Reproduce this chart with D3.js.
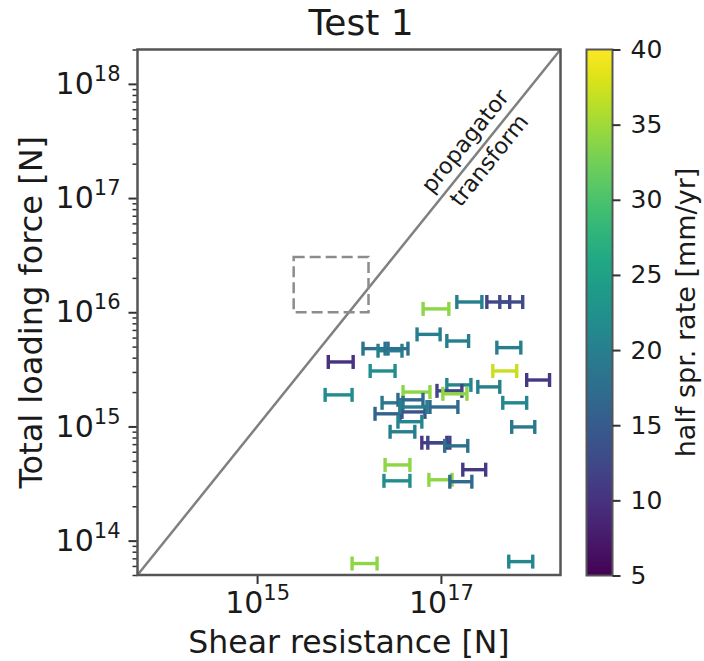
<!DOCTYPE html>
<html>
<head>
<meta charset="utf-8">
<script src="https://cdn.jsdelivr.net/npm/d3@7"></script>
<style>
  body { margin: 0; background: #fff; }
  text { font-family: "DejaVu Sans", sans-serif; fill: #1a1a1a; }
</style>
</head>
<body>
<div id="chart"></div>
<script>
// shear resistance error bar ends [N], total loading force [N], half spreading rate [mm/yr]
var shearLow  = [6.4e16, 1.49e17, 3.16e17, 4.37e17, 5.5e16, 1.16e17, 4.06e17, 1.42e16, 2.07e16, 2.47e16,
                 5.95e15, 1.7e16, 5.5e15, 3.67e17, 8.57e17, 2.52e17, 3.87e16, 1.16e17, 9.06e16, 1.05e17,
                 4.71e17, 5.89e17, 1.92e16, 2.29e16, 3.41e16, 3.77e16, 3.59e16, 7.6e16, 2.8e16, 3.41e16,
                 6.2e16, 7.2e16, 1.1e17, 2.47e16, 1.73e17, 2.4e16, 7.4e16, 1.25e17, 1.08e16, 5.47e17];
var shearHigh = [1.22e17, 2.79e17, 5.6e17, 7.76e17, 9.8e16, 2.0e17, 7.4e17, 2.66e16, 3.77e16, 4.38e16,
                 1.11e16, 3.17e16, 1.08e16, 6.68e17, 1.52e18, 4.37e17, 7.6e16, 2.12e17, 1.69e17, 1.92e17,
                 8.57e17, 1.05e18, 3.59e16, 3.87e16, 6.38e16, 6.7e16, 7.05e16, 1.53e17, 5.2e16, 6.2e16,
                 1.16e17, 1.25e17, 1.96e17, 4.6e16, 3.07e17, 4.6e16, 1.32e17, 2.17e17, 2.02e16, 9.98e17];
var loadForce = [1.07e16, 1.23e16, 1.23e16, 1.23e16, 6.4e15, 5.6e15, 4.9e15, 4.8e15, 4.6e15, 4.8e15,
                 3.67e15, 3.06e15, 1.89e15, 3.06e15, 2.55e15, 2.22e15, 2.0e15, 2.31e15, 2.05e15, 1.93e15,
                 1.61e15, 9.9e14, 1.29e15, 1.61e15, 1.71e15, 1.34e15, 1.48e15, 1.48e15, 8.98e14, 1.1e15,
                 7.2e14, 7.2e14, 6.76e14, 4.6e14, 4.18e14, 3.34e14, 3.41e14, 3.28e14, 6.3e13, 6.55e13];
var spreadRate = [34, 20, 12, 13, 20, 20, 20, 18, 20, 18,
                  10, 22, 22, 37, 11, 20, 34, 21, 12, 34,
                  21, 19, 16, 19, 17, 14, 20, 17, 20, 21,
                  11, 12, 18, 34, 11, 22, 34, 17, 34, 21];

var axisLimits = [5e13, 2e18];
var yTickValues = [1e14, 1e15, 1e16, 1e17, 1e18];
var xTickValues = [1e15, 1e17];
var boxX = [2.5e15, 1.63e16], boxY = [1e16, 3.05e16];
var rateDomain = [5, 40];
var rateTicks = [5, 10, 15, 20, 25, 30, 35, 40];

(function() {
  var W = 704, H = 661;
  var pL = 137.5, pR = 560.5, pT = 49.5, pB = 575;
  var cbLeft = 586.5, cbWidth = 26, cbTop = 49.5, cbBottom = 575.5;

  var svg = d3.select("#chart").append("svg")
      .attr("width", W).attr("height", H);

  var x = d3.scaleLog().domain(axisLimits).range([pL, pR]);
  var y = d3.scaleLog().domain(axisLimits).range([pB, pT]);
  var color = d3.scaleSequential(d3.interpolateViridis).domain(rateDomain);

  // superscript tick labels 10^n
  function powLabel(sel) {
    sel.each(function(d) {
      var t = d3.select(this).text("");
      t.append("tspan").text("10");
      t.append("tspan").attr("dy", "-0.62em").style("font-size", "70%")
        .text(Math.round(Math.log10(d)));
    });
  }

  // y axis: minor ticks
  var yMinor = [];
  for (var e = 13; e <= 18; e++) for (var m = 2; m <= 9; m++) {
    var v = m * Math.pow(10, e);
    if (v >= axisLimits[0] && v <= axisLimits[1]) yMinor.push(v);
  }
  svg.append("g").attr("transform", "translate(" + pL + ",0)")
    .call(d3.axisLeft(y).tickValues(yMinor).tickSize(5).tickFormat(""))
    .call(g => g.select(".domain").remove())
    .selectAll("line").attr("stroke", "#333").attr("stroke-width", 1.5);

  var yAx = svg.append("g").attr("transform", "translate(" + pL + ",0)")
    .call(d3.axisLeft(y).tickValues(yTickValues).tickSize(9).tickPadding(8));
  yAx.select(".domain").remove();
  yAx.selectAll("line").attr("stroke", "#333").attr("stroke-width", 2);
  yAx.selectAll("text").style("font-size", "30px").attr("dy", "0.32em").call(powLabel);

  var xAx = svg.append("g").attr("transform", "translate(0," + pB + ")")
    .call(d3.axisBottom(x).tickValues(xTickValues).tickSize(9).tickPadding(8));
  xAx.select(".domain").remove();
  xAx.selectAll("line").attr("stroke", "#333").attr("stroke-width", 2);
  xAx.selectAll("text").style("font-size", "30px").attr("dy", "0.71em").call(powLabel);

  // 1:1 line
  svg.append("line")
    .attr("x1", x(axisLimits[0])).attr("y1", y(axisLimits[0]))
    .attr("x2", x(axisLimits[1])).attr("y2", y(axisLimits[1]))
    .attr("stroke", "#808080").attr("stroke-width", 2.5);

  var ang = -Math.atan((pB - pT) / (pR - pL)) * 180 / Math.PI;
  svg.append("text").attr("transform", "translate(471,146) rotate(" + ang + ")")
    .attr("text-anchor", "middle").style("font-size", "22.5px").text("propagator");
  svg.append("text").attr("transform", "translate(495,165) rotate(" + ang + ")")
    .attr("text-anchor", "middle").style("font-size", "22.5px").text("transform");

  // dashed box
  svg.append("rect")
    .attr("x", x(boxX[0])).attr("y", y(boxY[1]))
    .attr("width", x(boxX[1]) - x(boxX[0])).attr("height", y(boxY[0]) - y(boxY[1]))
    .attr("fill", "none").attr("stroke", "#8c8c8c").attr("stroke-width", 2.5)
    .attr("stroke-dasharray", "11,5");

  // error bars
  var rows = d3.range(loadForce.length).map(i => ({
    lo: shearLow[i], hi: shearHigh[i], f: loadForce[i], r: spreadRate[i]
  }));
  var cap = 7;
  var bars = svg.append("g").selectAll("g").data(rows).enter().append("g")
    .attr("stroke", d => color(d.r)).attr("stroke-width", 3.4).attr("fill", "none");
  bars.append("line").attr("x1", d => x(d.lo)).attr("x2", d => x(d.hi))
    .attr("y1", d => y(d.f)).attr("y2", d => y(d.f));
  bars.append("line").attr("x1", d => x(d.lo)).attr("x2", d => x(d.lo))
    .attr("y1", d => y(d.f) - cap).attr("y2", d => y(d.f) + cap);
  bars.append("line").attr("x1", d => x(d.hi)).attr("x2", d => x(d.hi))
    .attr("y1", d => y(d.f) - cap).attr("y2", d => y(d.f) + cap);

  // frame
  svg.append("rect").attr("x", pL).attr("y", pT)
    .attr("width", pR - pL).attr("height", pB - pT)
    .attr("fill", "none").attr("stroke", "#555").attr("stroke-width", 2.5);

  // labels
  svg.append("text").attr("x", 361).attr("y", 35).attr("text-anchor", "middle")
    .style("font-size", "36px").text("Test 1");
  svg.append("text").attr("x", (pL + pR) / 2).attr("y", 653).attr("text-anchor", "middle")
    .style("font-size", "31.5px").text("Shear resistance [N]");
  svg.append("text").attr("transform", "translate(42," + (pT + pB) / 2 + ") rotate(-90)")
    .attr("text-anchor", "middle").style("font-size", "32px").text("Total loading force [N]");

  // colorbar
  var grad = svg.append("defs").append("linearGradient").attr("id", "viridis")
    .attr("x1", "0").attr("y1", "1").attr("x2", "0").attr("y2", "0");
  d3.range(0, 1.0001, 0.05).forEach(t => {
    grad.append("stop").attr("offset", t).attr("stop-color", d3.interpolateViridis(t));
  });
  svg.append("rect").attr("x", cbLeft).attr("y", cbTop)
    .attr("width", cbWidth).attr("height", cbBottom - cbTop)
    .attr("fill", "url(#viridis)").attr("stroke", "#555").attr("stroke-width", 2);

  var cScale = d3.scaleLinear().domain(rateDomain).range([cbBottom, cbTop]);
  var cAx = svg.append("g").attr("transform", "translate(" + (cbLeft + cbWidth) + ",0)")
    .call(d3.axisRight(cScale).tickValues(rateTicks).tickSize(8).tickPadding(10));
  cAx.select(".domain").remove();
  cAx.selectAll("line").attr("stroke", "#333").attr("stroke-width", 2);
  cAx.selectAll("text").style("font-size", "25px");

  svg.append("text").attr("transform", "translate(695," + (cbTop + cbBottom) / 2 + ") rotate(-90)")
    .attr("text-anchor", "middle").style("font-size", "27px").text("half spr. rate [mm/yr]");
})();
</script>
</body>
</html>
